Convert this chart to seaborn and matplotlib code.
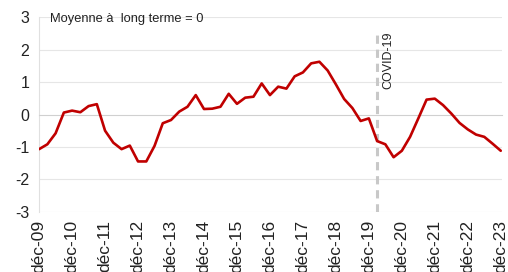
import numpy as np
import pandas as pd
import seaborn as sns
import matplotlib.pyplot as plt

# === Data (quarterly, déc-09 to déc-23) ===
values = [
    -1.07, -0.92, -0.58, 0.06, 0.12, 0.07, 0.26, 0.32,
    -0.50, -0.87, -1.07, -0.96, -1.45, -1.45, -0.97, -0.27,
    -0.17, 0.09, 0.24, 0.60, 0.17, 0.18, 0.24, 0.64,
    0.33, 0.52, 0.55, 0.96, 0.60, 0.86, 0.80, 1.18,
    1.30, 1.58, 1.63, 1.36, 0.93, 0.48, 0.20, -0.20,
    -0.12, -0.82, -0.92, -1.32, -1.12, -0.69, -0.12, 0.46,
    0.49, 0.29, 0.03, -0.26, -0.46, -0.62, -0.69, -0.90,
    -1.12,
]
year_labels = [f"déc-{y:02d}" for y in range(9, 24)]
covid_quarter = 41

df = pd.DataFrame({"quarter": np.arange(len(values)), "value": values})

# === Plot ===
sns.set_style("white")
plt.rcParams["font.family"] = ["Liberation Sans", "DejaVu Sans"]
plt.rcParams["axes.unicode_minus"] = False

fig = plt.figure(figsize=(5.08, 2.72), dpi=100)
ax = fig.add_axes([0.077, 0.222, 0.912, 0.714])

for yv in [-3, -2, -1, 1, 2, 3]:
    ax.axhline(yv, color="#e6e6e6", lw=0.8, zorder=0)

ax.axvline(covid_quarter, color="#c8c8c8", lw=2.2, ls=(0, (2.7, 1.9)), ymax=0.935, zorder=1)

sns.lineplot(data=df, x="quarter", y="value", color="#c00000", lw=1.9, ax=ax, zorder=3)

ax.set_xlim(0, 56.2)
ax.set_ylim(-3, 3)
ax.set_yticks(range(-3, 4))
ax.set_xlabel("")
ax.set_ylabel("")

# x axis line with ticks at zero
ax.spines["bottom"].set_position(("data", 0))
ax.spines["bottom"].set_color("#d0d0d0")
ax.spines["top"].set_visible(False)
ax.spines["right"].set_visible(False)
ax.spines["left"].set_color("#e0e0e0")
ax.set_xticks(range(0, 57, 4))
ax.tick_params(axis="x", length=4, color="#d0d0d0", labelbottom=False)
ax.tick_params(axis="y", length=4, color="#e0e0e0", labelsize=11.5, labelcolor="#222222", pad=3)

sec = ax.secondary_xaxis("bottom")
sec.set_xticks(range(0, 57, 4))
sec.set_xticklabels(year_labels, rotation=90, fontsize=12.5, color="#222222")
sec.tick_params(length=0, pad=6)
sec.spines["bottom"].set_visible(False)

ax.text(1.3, 2.95, "Moyenne à  long terme = 0", fontsize=9.3, color="#222222", va="center", ha="left")
ax.text(covid_quarter + 1.4, 2.58, "COVID-19", fontsize=9, color="#222222",
        rotation=90, va="top", ha="center")

plt.savefig("out.png", dpi=100)
